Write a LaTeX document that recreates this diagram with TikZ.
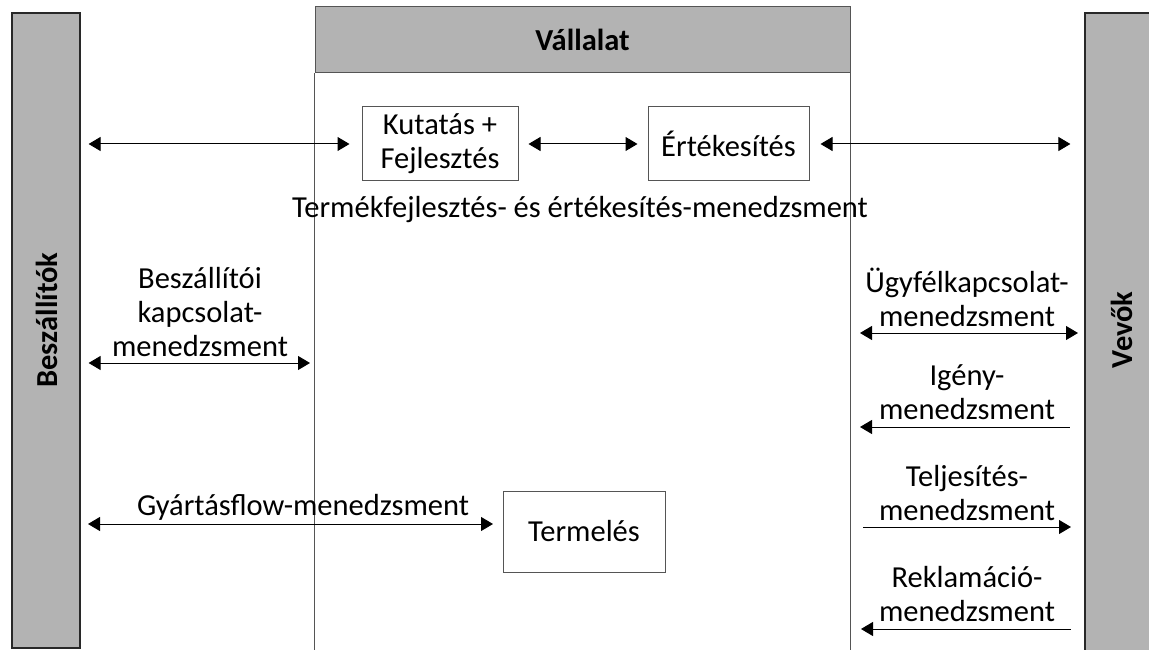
\documentclass[tikz,border=0pt]{standalone}
\usepackage{fontspec}
\setmainfont{Carlito}
\usetikzlibrary{arrows.meta}
\definecolor{barfill}{RGB}{179,179,179}
\definecolor{edgegray}{RGB}{85,85,85}
\definecolor{bardark}{RGB}{40,40,40}
\begin{document}
\begin{tikzpicture}[x=1pt,y=-1pt,
  font=\fontsize{30.5}{34}\selectfont,
  boxnode/.style={draw=edgegray,line width=1pt,inner sep=0pt,align=center},
  barnode/.style={fill=barfill,draw=bardark,line width=1.2pt,inner sep=0pt},
  framenode/.style={fill=barfill,draw=edgegray,line width=1pt,inner sep=0pt},
  framerule/.style={draw=edgegray,line width=1pt},
  lbl/.style={align=center,inner sep=0pt},
  bothtip/.style={line width=1pt,{Triangle[length=12pt,width=14pt]}-{Triangle[length=12pt,width=14pt]}},
  lefttip/.style={line width=1pt,{Triangle[length=12pt,width=14pt]}-},
  righttip/.style={line width=1pt,-{Triangle[length=12pt,width=14pt]}}]
\clip (0,0) rectangle (1149,650);
\fill[white] (0,0) rectangle (1149,650);

% side bars
\node[barnode,minimum width=68pt,minimum height=635pt] (besz) at (46,330.5) {};
\node[lbl,rotate=90,font=\fontsize{30.5}{34}\selectfont\bfseries] (beszt) at (47,320) {Beszállítók};
\node[barnode,minimum width=80pt,minimum height=650pt] (vevo) at (1125,338) {};
\node[lbl,rotate=90,font=\fontsize{30.5}{34}\selectfont\bfseries] (vevot) at (1122,330) {Vevők};

% company frame
\node[framenode,minimum width=535pt,minimum height=66pt] (vall) at (582.5,40) {\bfseries Vállalat};
\draw[framerule] (vall.south west) -- ++(0,590);
\draw[framerule] (vall.south east) -- ++(0,590);

% boxes
\node[boxnode,minimum width=156pt,minimum height=74pt] (kf) at (440,144) {Kutatás +\\Fejlesztés};
\node[boxnode,minimum width=161pt,minimum height=74pt] (ert) at (728.5,144) {Értékesítés};
\node[boxnode,minimum width=162pt,minimum height=81pt] (term) at (584,531.5) {Termelés};

% labels
\node[lbl] (tfe) at (580,210) {Termékfejlesztés- és értékesítés-menedzsment};
\node[lbl] (bkm) at (200,312) {Beszállítói\\kapcsolat-\\menedzsment};
\node[lbl] (gym) at (303,507) {Gyártásflow-menedzsment};
\node[lbl] (ukm) at (967,297) {Ügyfélkapcsolat-\\menedzsment};
\node[lbl] (igm) at (967,392) {Igény-\\menedzsment};
\node[lbl] (tjm) at (967,493) {Teljesítés-\\menedzsment};
\node[lbl] (rkm) at (967,594) {Reklamáció-\\menedzsment};

% free ends
\coordinate (bkmR) at (310,363);
\coordinate (gyL) at (88,524);
\coordinate (gyR) at (493,524);
\coordinate (uL) at (860,333);
\coordinate (uR) at (1078,333);
\coordinate (iL) at (860,427);
\coordinate (iR) at (1070,427);
\coordinate (tL) at (863,527);
\coordinate (tR) at (1071,527);
\coordinate (rL) at (861,629);
\coordinate (rR) at (1071,629);

% connectors
\draw[bothtip] ([xshift=8pt]besz.east |- kf.west) -- ([xshift=-12pt]kf.west);
\draw[bothtip] ([xshift=10pt]kf.east) -- ([xshift=-10pt]ert.west);
\draw[bothtip] ([xshift=11pt]ert.east) -- ([xshift=-14pt]vevo.west |- ert.east);
\draw[bothtip] ([xshift=8pt]besz.east |- bkmR) -- (bkmR);
\draw[bothtip] (gyL) -- (gyR);
\draw[bothtip] (uL) -- (uR);
\draw[lefttip] (iL) -- (iR);
\draw[righttip] (tL) -- (tR);
\draw[lefttip] (rL) -- (rR);
\end{tikzpicture}
\end{document}
